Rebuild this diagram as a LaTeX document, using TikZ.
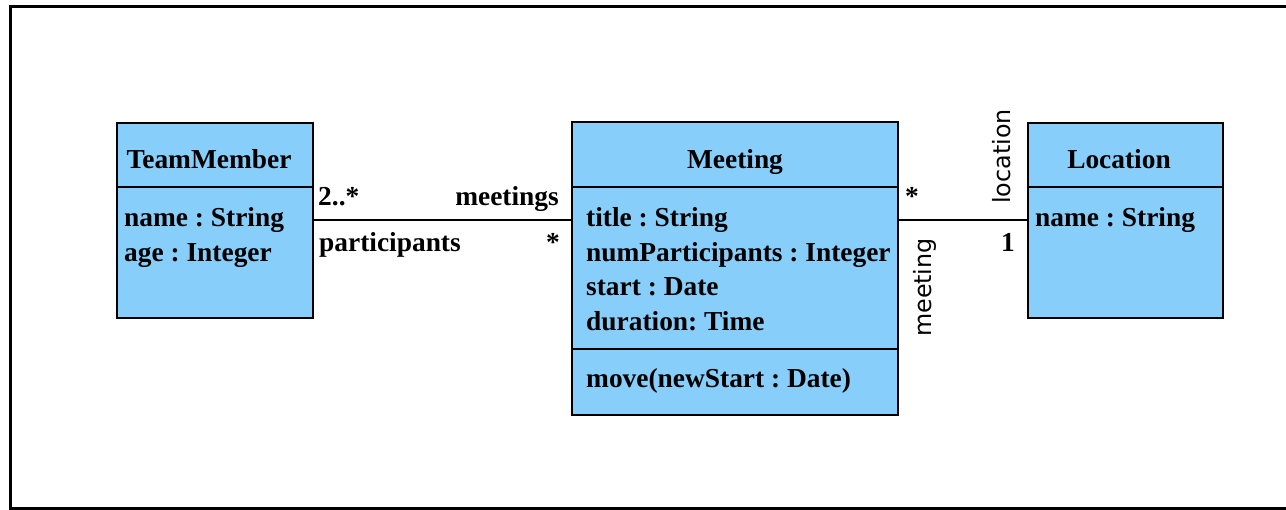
\documentclass[tikz,border=0pt]{standalone}
\usepackage{fontspec}
\setmainfont{Liberation Serif}
\newfontfamily\rolefont{DejaVu Sans}
\usetikzlibrary{calc}
\definecolor{classfill}{RGB}{135,206,250}
\frenchspacing
\begin{document}
\begin{tikzpicture}[x=1pt,y=-1pt,
  umlbox/.style={draw=black, line width=2pt, fill=classfill, rectangle, inner sep=0pt},
  divider/.style={draw=black, line width=2pt},
  assoc/.style={draw=black, line width=2pt},
  txt/.style={inner sep=0pt, font=\fontsize{27.4}{34.5}\selectfont\bfseries\frenchspacing},
  role/.style={inner sep=0pt, font=\fontsize{23.8}{28}\selectfont\rolefont, rotate=90, anchor=base west}]
\useasboundingbox (0,0) rectangle (1286,510);
\draw[line width=3pt] (10.5,6.5) rectangle (1300,509);

% classes
\node[umlbox, minimum width=196pt, minimum height=195pt] (tm) at (215,220.5) {};
\draw[divider] ($(tm.north west)+(0,65)$) -- ($(tm.north east)+(0,65)$);
\node[umlbox, minimum width=326pt, minimum height=293pt] (mt) at (735,269) {};
\draw[divider] ($(mt.north west)+(0,65.5)$) -- ($(mt.north east)+(0,65.5)$);
\draw[divider] ($(mt.north west)+(0,228)$) -- ($(mt.north east)+(0,228)$);
\node[umlbox, minimum width=195.5pt, minimum height=195pt] (loc) at (1125.25,220.5) {};
\draw[divider] ($(loc.north west)+(0,65)$) -- ($(loc.north east)+(0,65)$);

% titles
\node[txt, anchor=base] (tmt) at (209,168.3) {TeamMember};
\node[txt, anchor=base] (mtt) at (735,168.3) {Meeting};
\node[txt, anchor=base] (loct) at (1119,168.3) {Location};

% attributes
\node[txt, anchor=base west] (tma1) at (124,226.7) {name : String};
\node[txt, anchor=base west] (tma2) at (124,261.2) {age : Integer};
\node[txt, anchor=base west] (mta1) at (586,226.7) {title : String};
\node[txt, anchor=base west] (mta2) at (586,261.2) {numParticipants : Integer};
\node[txt, anchor=base west] (mta3) at (586,295.7) {start : Date};
\node[txt, anchor=base west] (mta4) at (586,330.2) {duration: Time};
\node[txt, anchor=base west] (mto1) at (586,388) {move(newStart : Date)};
\node[txt, anchor=base west] (loca1) at (1035,226.7) {name : String};

% associations
\draw[assoc] (tm.east) -- (tm.east -| mt.west);
\draw[assoc] (loc.west -| mt.east) -- (loc.west);

% association labels
\node[txt, anchor=base west] (m1) at (318,206) {2..*};
\node[txt, anchor=base east] (r1) at (559,206) {meetings};
\node[txt, anchor=base west] (r2) at (319,251.7) {participants};
\node[txt, anchor=base east] (m2) at (560,252) {*};
\node[txt, anchor=base west] (m3) at (905,206) {*};
\node[txt, anchor=base east] (m4) at (1015,252) {1};
\node[role] (r3) at (1010,204) {location};
\node[role] (r4) at (931,337) {meeting};
\end{tikzpicture}
\end{document}
